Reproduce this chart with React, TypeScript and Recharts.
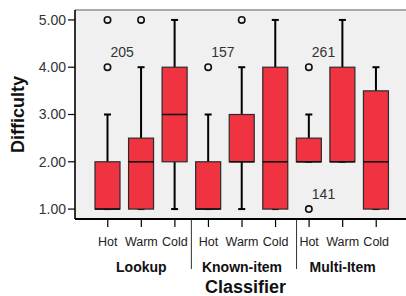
import { Bar, CartesianGrid, ComposedChart, ReferenceLine, XAxis, YAxis } from "recharts";

// box plot of difficulty per classifier group / temperature
const GROUPS = ["Lookup", "Known-item", "Multi-Item"];
const CATEGORIES = ["Hot", "Warm", "Cold"];

const WHISKER_LOW = [1, 1, 1, 1, 1, 1, 2, 2, 1];
const Q1 = [1, 1, 2, 1, 2, 1, 2, 2, 1];
const MEDIAN = [1, 2, 3, 1, 2, 2, 2, 2, 2];
const Q3 = [2, 2.5, 4, 2, 3, 4, 2.5, 4, 3.5];
const WHISKER_HIGH = [3, 4, 5, 3, 4, 5, 3, 5, 4];
const OUTLIERS = [[5, 4], [5], [], [4], [5], [], [4, 1], [], []];
const OUTLIER_LABELS = [["", "205"], [""], [], ["157"], [""], [], ["261", "141"], [], []];

const Y_TICKS = [1, 2, 3, 4, 5];
const Y_MIN = 0.79;
const Y_MAX = 5.21;

const FONT = "'Liberation Sans', Arial, sans-serif";
const BOX_FILL = "#ef3340";
const PLOT_BG = "#f0f0f0";

const data = GROUPS.flatMap((g, gi) =>
  CATEGORIES.map((c, ci) => {
    const i = gi * 3 + ci;
    return {
      key: `${g}|${c}`,
      lo: WHISKER_LOW[i],
      q1: Q1[i],
      med: MEDIAN[i],
      q3: Q3[i],
      hi: WHISKER_HIGH[i],
      out: OUTLIERS[i],
      outLabels: OUTLIER_LABELS[i],
    };
  }),
);

// the bar spans the whiskers; everything else is placed on the same linear scale
function BoxShape(props: any) {
  const { x, y, width, height, payload } = props;
  if (payload == null || !Number.isFinite(y)) return null;
  const top = Math.min(y, y + height);
  const bot = Math.max(y, y + height);
  const k = (bot - top) / (payload.hi - payload.lo);
  const Y = (v: number) => bot - (v - payload.lo) * k;
  const cx = x + width / 2;
  const cap = 3.5;
  return (
    <g>
      <line x1={cx} x2={cx} y1={Y(payload.hi)} y2={Y(payload.q3)} stroke="#000" strokeWidth={2} />
      <line x1={cx} x2={cx} y1={Y(payload.q1)} y2={Y(payload.lo)} stroke="#000" strokeWidth={2} />
      <line x1={cx - cap} x2={cx + cap} y1={Y(payload.hi)} y2={Y(payload.hi)} stroke="#000" strokeWidth={2} />
      <line x1={cx - cap} x2={cx + cap} y1={Y(payload.lo)} y2={Y(payload.lo)} stroke="#000" strokeWidth={2} />
      <rect
        x={x}
        y={Y(payload.q3)}
        width={width}
        height={Y(payload.q1) - Y(payload.q3)}
        fill={BOX_FILL}
        stroke="#2a2a2a"
        strokeWidth={1.2}
      />
      <line x1={x} x2={x + width} y1={Y(payload.med)} y2={Y(payload.med)} stroke="#111" strokeWidth={1.6} />
      {payload.out.map((v: number, j: number) => (
        <g key={j}>
          <circle cx={cx} cy={Y(v)} r={3.2} fill="none" stroke="#111" strokeWidth={1.6} />
          {payload.outLabels[j] ? (
            <text x={cx + 3} y={Y(v) - 10} fontSize={14} fontFamily={FONT} fill="#333">
              {payload.outLabels[j]}
            </text>
          ) : null}
        </g>
      ))}
    </g>
  );
}

function CategoryTick(props: any) {
  const { x, y, payload } = props;
  const [group, cat] = String(payload.value).split("|");
  const gi = GROUPS.indexOf(group);
  return (
    <g>
      <text x={x} y={y} dy={17} textAnchor="middle" fontSize={12.5} fontFamily={FONT} fill="#222">
        {cat}
      </text>
      {cat === "Warm" ? (
        <text x={x} y={y} dy={43} textAnchor="middle" fontSize={14} fontWeight="bold" fontFamily={FONT} fill="#111">
          {group}
        </text>
      ) : null}
      {cat === "Cold" && gi < GROUPS.length - 1 ? (
        <line x1={x + 16.5 + gi * 4.5} x2={x + 16.5 + gi * 4.5} y1={y - 9} y2={y + 40} stroke="#333" strokeWidth={1} />
      ) : null}
    </g>
  );
}

function YTitle(props: any) {
  const vb = props.viewBox ?? { x: 0, y: 10, width: 75, height: 209 };
  return (
    <text
      transform={`translate(${vb.x + 18}, ${vb.y + vb.height / 2}) rotate(-90)`}
      textAnchor="middle"
      dominantBaseline="central"
      fontSize={18}
      fontWeight="bold"
      fontFamily={FONT}
      fill="#111"
    >
      Difficulty
    </text>
  );
}

export default function App() {
  return (
    <div style={{ position: "absolute", left: 0, top: 0, width: 406, height: 296, background: "#fff" }}>
      <ComposedChart width={406} height={296} data={data} margin={{ top: 10, right: 0, bottom: 0, left: 0 }}>
        <CartesianGrid fill={PLOT_BG} horizontal={false} vertical={false} />
        <ReferenceLine y={Y_MAX} stroke="#a8a8a8" strokeWidth={2} />
        <XAxis
          dataKey="key"
          type="category"
          interval={0}
          height={77}
          padding={{ left: 16, right: 13 }}
          tickSize={8}
          tickMargin={2}
          tick={<CategoryTick />}
          tickLine={{ stroke: "#000", strokeWidth: 1.2 }}
          axisLine={{ stroke: "#000", strokeWidth: 2 }}
          label={{
            value: "Classifier",
            position: "insideBottom",
            offset: 3,
            dx: 5,
            style: { fontSize: 18, fontWeight: "bold", fontFamily: FONT, fill: "#111" },
          }}
        />
        <YAxis
          type="number"
          domain={[Y_MIN, Y_MAX]}
          ticks={Y_TICKS}
          interval={0}
          width={75}
          tickSize={7}
          tickMargin={2}
          tickFormatter={(v: number) => v.toFixed(2)}
          tick={{ fontSize: 14, fontFamily: FONT, fill: "#333" }}
          tickLine={{ stroke: "#000", strokeWidth: 1.2 }}
          axisLine={{ stroke: "#000", strokeWidth: 1.6 }}
          label={{ content: (p: any) => <YTitle {...p} /> }}
        />
        <Bar
          dataKey={(d: any) => [d.lo, d.hi]}
          barSize={25}
          shape={(p: any) => <BoxShape {...p} />}
          isAnimationActive={false}
        />
      </ComposedChart>
    </div>
  );
}
